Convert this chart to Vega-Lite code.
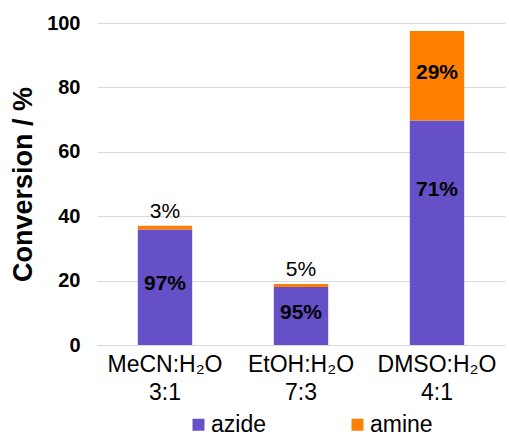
{
  "$schema": "https://vega.github.io/schema/vega-lite/v6.json",
  "width": 408,
  "height": 322,
  "autosize": "none",
  "padding": {"left": 97, "top": 23, "right": 4, "bottom": 91},
  "background": "white",
  "config": {"view": {"stroke": null}, "font": "Liberation Sans"},
  "data": {
    "values": [
      {"solvent": "MeCN:H₂O|3:1", "species": "azide", "k": 1, "value": 35.9, "label": "97%"},
      {"solvent": "MeCN:H₂O|3:1", "species": "amine", "k": 2, "value": 1.1, "label": "3%"},
      {"solvent": "EtOH:H₂O|7:3", "species": "azide", "k": 1, "value": 18.0, "label": "95%"},
      {"solvent": "EtOH:H₂O|7:3", "species": "amine", "k": 2, "value": 0.95, "label": "5%"},
      {"solvent": "DMSO:H₂O|4:1", "species": "azide", "k": 1, "value": 69.7, "label": "71%"},
      {"solvent": "DMSO:H₂O|4:1", "species": "amine", "k": 2, "value": 27.8, "label": "29%"}
    ]
  },
  "transform": [
    {"stack": "value", "groupby": ["solvent"], "sort": [{"field": "k"}], "as": ["v0", "v1"]},
    {"calculate": "(datum.v0 + datum.v1) / 2", "as": "mid"}
  ],
  "encoding": {
    "x": {
      "field": "solvent",
      "type": "nominal",
      "sort": null,
      "scale": {"paddingInner": 0.6, "paddingOuter": 0.3},
      "axis": {
        "title": null,
        "labelAngle": 0,
        "labelExpr": "split(datum.label, '|')",
        "labelFontSize": 23,
        "labelColor": "black",
        "labelLineHeight": 28,
        "labelPadding": 8,
        "ticks": false,
        "domain": false
      }
    }
  },
  "layer": [
    {
      "mark": {"type": "bar"},
      "encoding": {
        "y": {
          "field": "v0",
          "type": "quantitative",
          "scale": {"domain": [0, 100], "nice": false},
          "axis": {
            "title": "Conversion / %",
            "values": [0, 20, 40, 60, 80, 100],
            "grid": true,
            "gridColor": "#d9d9d9",
            "domain": false,
            "ticks": false,
            "labelFontSize": 20,
            "labelFontWeight": "bold",
            "labelColor": "black",
            "labelPadding": 17,
            "titleFontSize": 27,
            "titleFontWeight": "bold",
            "titleColor": "black",
            "titlePadding": 9
          }
        },
        "y2": {"field": "v1"},
        "color": {
          "field": "species",
          "type": "nominal",
          "scale": {"domain": ["azide", "amine"], "range": ["#6650C8", "#FF8000"]},
          "legend": {
            "title": null,
            "orient": "none",
            "legendX": 90,
            "legendY": 390,
            "direction": "horizontal",
            "symbolType": "square",
            "symbolSize": 144,
            "symbolStrokeWidth": 0,
            "labelFontSize": 23,
            "labelColor": "black",
            "labelOffset": 1,
            "columnPadding": 80
          }
        }
      }
    },
    {
      "transform": [{"filter": "datum.value > 5 && datum.label != '71%'"}],
      "mark": {"type": "text", "fontSize": 21, "fontWeight": "bold", "color": "black", "baseline": "middle", "dy": -3},
      "encoding": {
        "y": {"field": "mid", "type": "quantitative"},
        "text": {"field": "label"}
      }
    },
    {
      "transform": [{"filter": "datum.label == '71%'"}],
      "mark": {"type": "text", "fontSize": 21, "fontWeight": "bold", "color": "black", "baseline": "middle", "dy": -43},
      "encoding": {
        "y": {"field": "mid", "type": "quantitative"},
        "text": {"field": "label"}
      }
    },
    {
      "transform": [{"filter": "datum.value <= 5"}],
      "mark": {"type": "text", "fontSize": 21, "color": "black", "baseline": "alphabetic", "dy": -8},
      "encoding": {
        "y": {"field": "v1", "type": "quantitative"},
        "text": {"field": "label"}
      }
    }
  ]
}
